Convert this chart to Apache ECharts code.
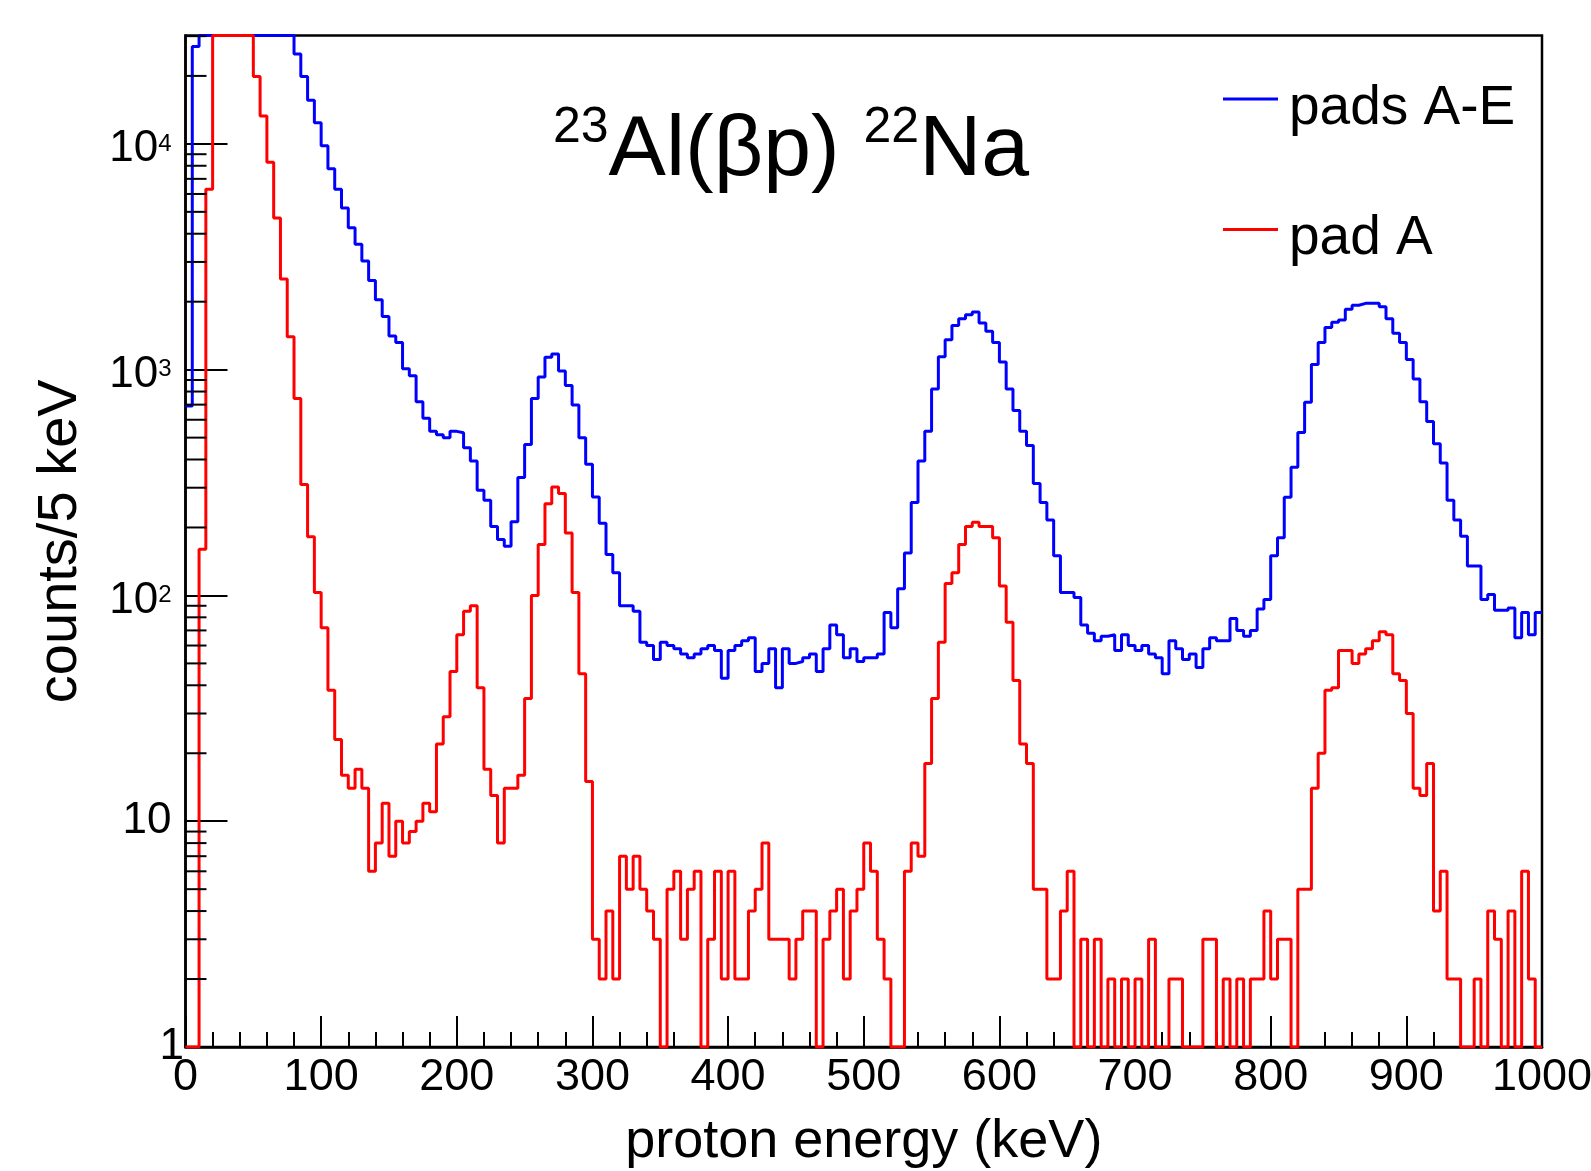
<!DOCTYPE html>
<html>
<head>
<meta charset="utf-8">
<script src="https://cdn.jsdelivr.net/npm/echarts@6/dist/echarts.min.js"></script>
<style>
html,body{margin:0;padding:0;background:#ffffff;}
#chart{width:1591px;height:1171px;}
</style>
</head>
<body>
<div id="chart"></div>
<script>
// ---- data (5 keV bins from 0 to 1000 keV) ----
const binWidthKeV = 5;
const xMin = 0, xMax = 1000;
const yMin = 1, yMax = 30200;

const seriesNames = ['pads A-E', 'pad A'];
const xAxisTitle = 'proton energy (keV)';
const yAxisTitle = 'counts/5 keV';

// counts per bin, pads A-E (values above the frame are estimates of off-scale bins)
const padsAE = [
  690, 27000, 38000, 48000, 55000, 60000, 62000, 62000, 60000, 56000,
  52000, 47000, 42000, 38000, 34000, 31000, 25000, 19900, 15600, 12400,
  9800, 7750, 6300, 5200, 4250, 3590, 3030, 2480, 2040, 1720,
  1410, 1320, 1010, 940, 720, 610, 533, 515, 499, 533,
  526, 451, 394, 292, 264, 202, 177, 165, 212, 333,
  466, 745, 929, 1136, 1174, 987, 851, 697, 499, 381,
  273, 209, 152, 126, 90, 90, 85, 62, 60, 52,
  62, 60, 58, 55, 53, 55, 58, 60, 57, 43,
  57, 60, 63, 65, 46, 50, 58, 39, 58, 50,
  51, 53, 55, 46, 58, 74, 67, 53, 58, 51,
  53, 53, 55, 84, 72, 107, 154, 258, 394, 533,
  820, 1140, 1358, 1570, 1680, 1750, 1800, 1610, 1478, 1320,
  1080, 820, 659, 533, 461, 313, 258, 216, 150, 103,
  103, 98, 74, 68, 63, 66, 67, 57, 67, 60,
  57, 60, 55, 53, 45, 63, 58, 52, 55, 48,
  58, 65, 63, 63, 79, 70, 66, 70, 87, 96,
  150, 180, 272, 370, 527, 718, 1055, 1320, 1536, 1620,
  1660, 1850, 1930, 1967, 1967, 1967, 1900, 1680, 1450, 1320,
  1110, 910, 720, 590, 470, 386, 264, 216, 183, 135,
  135, 96, 101, 86, 86, 88, 65, 84, 67, 84
];

// counts per bin, pad A (empty bins are drawn on the frame bottom, value 1)
const padA = [
  1, 1, 160, 6300, 35000, 45000, 48000, 46000, 40000, 32000,
  19900, 13300, 8300, 4700, 2520, 1400, 745, 310, 182, 103,
  72, 38, 23, 16, 14, 17, 14, 6, 8, 12,
  7, 10, 8, 9, 10, 12, 11, 22, 29, 46,
  67, 85, 90, 39, 17, 13, 8, 14, 14, 16,
  35, 100, 168, 255, 302, 283, 189, 103, 45, 15,
  3, 2, 4, 2, 7, 5, 7, 5, 4, 3,
  1, 5, 6, 3, 5, 6, 1, 3, 6, 2,
  6, 2, 2, 4, 5, 8, 3, 3, 3, 2,
  3, 4, 4, 1, 3, 4, 5, 2, 4, 5,
  8, 6, 3, 2, 1, 1, 6, 8, 7, 18,
  35, 62, 113, 126, 168, 202, 211, 202, 202, 180,
  110, 76, 42, 22, 18, 5, 5, 2, 2, 4,
  6, 1, 3, 1, 3, 1, 2, 1, 2, 1,
  2, 1, 3, 1, 1, 2, 2, 1, 1, 1,
  3, 3, 1, 2, 1, 2, 1, 2, 2, 4,
  2, 3, 3, 1, 5, 5, 14, 20, 38, 39,
  57, 57, 50, 55, 58, 63, 69, 67, 45, 42,
  30, 14, 13, 18, 4, 6, 2, 2, 1, 1,
  2, 1, 4, 3, 1, 4, 1, 6, 2, 1
];

// ---- helpers ----
const FONT = 'Liberation Sans, Arial, Helvetica, sans-serif';

// histogram outline: one point per bin low edge plus the final upper edge;
// off-scale bins are drawn along the frame top (as ROOT does)
function histPoints(vals) {
  const pts = vals.map((v, i) => [i * binWidthKeV, Math.min(v, yMax)]);
  const last = vals[vals.length - 1];
  pts.push([vals.length * binWidthKeV, Math.min(last, yMax)]);
  return pts;
}

// minor log ticks at 2..9 x 10^n
const yMinorTickValues = [];
for (let e = 0; e < 5; e++) {
  for (let m = 2; m <= 9; m++) {
    const v = m * Math.pow(10, e);
    if (v < yMax) yMinorTickValues.push(v);
  }
}

const chart = echarts.init(document.getElementById('chart'), null, {renderer: 'canvas'});

chart.setOption({
  animation: false,
  backgroundColor: '#ffffff',
  grid: {
    left: 185.5, right: 49, top: 35.5, bottom: 124,
    outerBoundsMode: 'none', containLabel: false,
    show: true, borderColor: '#000', borderWidth: 2.5, backgroundColor: 'transparent'
  },
  xAxis: {
    type: 'value', min: xMin, max: xMax, interval: 100,
    name: xAxisTitle, nameLocation: 'middle', nameGap: 68,
    nameTextStyle: {fontFamily: FONT, fontSize: 54, color: '#000'},
    axisLine: {show: true, onZero: false, lineStyle: {color: '#000', width: 2.5}},
    axisTick: {show: true, inside: true, length: 31, lineStyle: {color: '#000', width: 2}},
    minorTick: {show: true, splitNumber: 5, length: 15, lineStyle: {color: '#000', width: 2}},
    splitLine: {show: false}, minorSplitLine: {show: false},
    axisLabel: {
      fontFamily: FONT, fontSize: 45, color: '#000', margin: 8,
      showMinLabel: true, showMaxLabel: true, hideOverlap: false,
      formatter: function (v) { return String(v); }
    }
  },
  yAxis: {
    type: 'log', logBase: 10, min: yMin, max: yMax,
    name: yAxisTitle, nameLocation: 'middle', nameGap: 97, nameRotate: 90,
    nameTextStyle: {fontFamily: FONT, fontSize: 56, color: '#000'},
    axisLine: {show: true, onZero: false, lineStyle: {color: '#000', width: 2.5}},
    axisTick: {show: true, inside: true, length: 42, lineStyle: {color: '#000', width: 2}},
    splitLine: {show: false},
    axisLabel: {
      fontFamily: FONT, fontSize: 44, color: '#000', margin: 14,
      showMinLabel: true, showMaxLabel: false, hideOverlap: false,
      formatter: function (v) {
        const e = Math.round(Math.log10(v));
        if (v > yMax * 0.99) return '';
        if (e === 0) return '{one|1}';
        if (e === 1) return '{b|10}';
        return '{p|10}{s|' + e + '}';
      },
      rich: {
        one: {fontFamily: FONT, fontSize: 44, lineHeight: 44, color: '#000', width: 12, align: 'left'},
        b: {fontFamily: FONT, fontSize: 44, lineHeight: 44, color: '#000'},
        p: {fontFamily: FONT, fontSize: 44, lineHeight: 44, color: '#000', padding: [10, 0, 0, 0]},
        s: {fontFamily: FONT, fontSize: 24, lineHeight: 28, verticalAlign: 'top', color: '#000', padding: [10, 0, 0, 0]}
      }
    }
  },
  legend: {
    data: seriesNames, orient: 'vertical', left: 1218, top: 76,
    itemWidth: 55, itemHeight: 3, itemGap: 75.5, icon: 'rect',
    formatter: function (name) { return '{sp|\u200b}{t|' + name + '}'; },
    textStyle: {
      fontFamily: FONT, fontSize: 55, color: '#000', padding: [0, 0, 0, 6],
      rich: {
        sp: {fontFamily: FONT, fontSize: 10, lineHeight: 74},
        t: {fontFamily: FONT, fontSize: 55, lineHeight: 60, verticalAlign: 'bottom', color: '#000'}
      }
    }
  },
  graphic: [{
    type: 'text', left: 553, top: 103, z: 10,
    style: {
      text: '{s|23}{m|Al(βp) }{s|22}{m|Na}',
      rich: {
        s: {fontFamily: FONT, fontSize: 50, lineHeight: 74, verticalAlign: 'top', fill: '#000'},
        m: {fontFamily: FONT, fontSize: 86, lineHeight: 96, fill: '#000'}
      }
    }
  }],
  series: [
    {
      name: seriesNames[0], type: 'line', step: 'end', symbol: 'none', showSymbol: false,
      data: histPoints(padsAE), color: '#0000ff',
      lineStyle: {color: '#0000ff', width: 3}, z: 3
    },
    {
      name: seriesNames[1], type: 'line', step: 'end', symbol: 'none', showSymbol: false,
      data: histPoints(padA), color: '#ff0000',
      lineStyle: {color: '#ff0000', width: 3}, z: 4
    },
    {
      type: 'custom', silent: true, clip: false, z: 5,
      data: yMinorTickValues.map(v => [xMin, v]),
      renderItem: function (params, api) {
        const p = api.coord([api.value(0), api.value(1)]);
        return {
          type: 'line',
          shape: {x1: p[0], y1: p[1], x2: p[0] + 21, y2: p[1]},
          style: {stroke: '#000', lineWidth: 2}
        };
      }
    }
  ]
});
</script>
</body>
</html>
